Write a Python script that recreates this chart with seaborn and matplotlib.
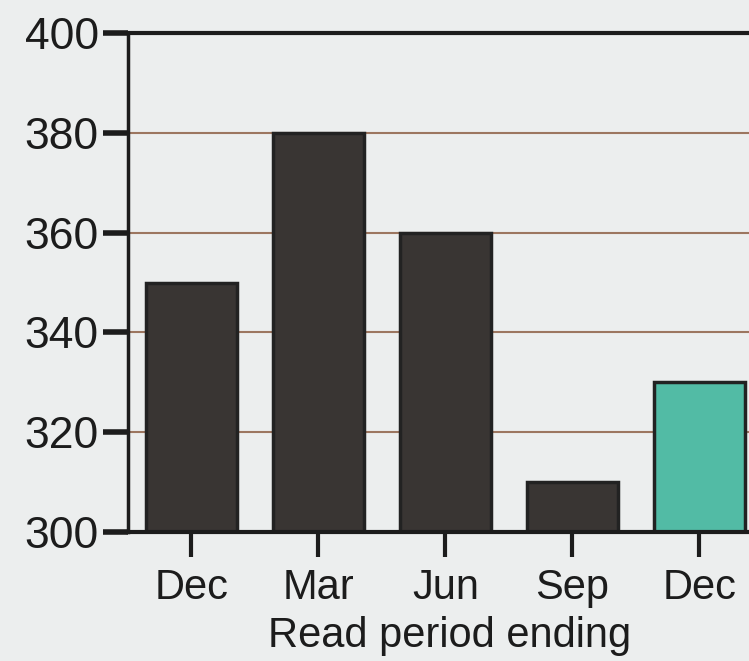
import pandas as pd
import numpy as np
import seaborn as sns
import matplotlib.pyplot as plt

# Values
periods = ['Dec', 'Mar', 'Jun', 'Sep', 'Dec']
reads = [350, 380, 360, 310, 330]
bar_colors = ['#393533', '#393533', '#393533', '#393533', '#52bba5']
y_ticks = [300, 320, 340, 360, 380, 400]

df = pd.DataFrame({'slot': range(len(periods)), 'reads': reads})

sns.set_style('white')
plt.rcParams['font.family'] = ['Liberation Sans', 'DejaVu Sans']

paper = '#eceeee'
ink = '#1c1c1c'
fig = plt.figure(figsize=(7.49, 6.61), dpi=100, facecolor=paper)
ax = fig.add_axes([128 / 749, 129 / 661, 1 - 128 / 749, 499 / 661])
ax.set_facecolor(paper)

# grid lines behind the bars
for v in y_ticks[1:-1]:
    ax.axhline(v, color='#9c7660', lw=1.5, zorder=0)

sns.barplot(data=df, x='slot', y='reads', hue='slot', palette=bar_colors,
            legend=False, width=0.71, edgecolor='#222222', linewidth=2.5,
            saturation=1, ax=ax, zorder=2)

ax.set_ylim(300, 400)
ax.set_xlim(-0.5, 4.39)
ax.set_yticks(y_ticks)
ax.set_xticks(range(len(periods)))
ax.set_xticklabels(periods)

ax.spines['right'].set_visible(False)
ax.spines['left'].set_linewidth(2.5)
ax.spines['bottom'].set_linewidth(3)
ax.spines['top'].set_linewidth(3)
for s in ['left', 'bottom', 'top']:
    ax.spines[s].set_color(ink)

ax.tick_params(axis='y', left=True, length=18, width=4, color=ink, pad=3,
               labelsize=32, labelcolor=ink)
ax.tick_params(axis='x', bottom=True, length=18, width=3, color=ink, pad=8,
               labelsize=30, labelcolor=ink)

ax.set_ylabel('')
ax.set_xlabel('Read period ending', fontsize=30, color=ink)
ax.xaxis.set_label_coords(0.518, -0.168)

fig.savefig('out.png', dpi=100, facecolor=paper)
